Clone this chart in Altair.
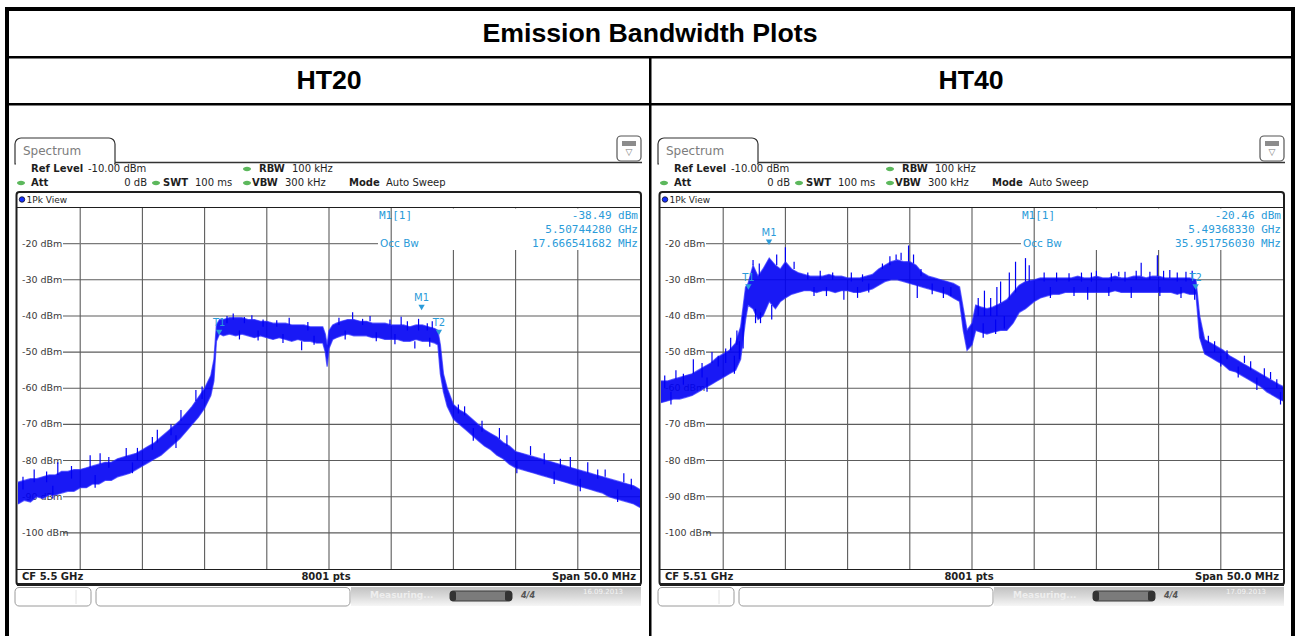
import altair as alt
import pandas as pd

# ---------------- sweep settings shared by both screens ----------------
SPAN_MHZ = 50.0
REF_DBM = -10.0
FLOOR_DBM = -110.0
grid_db = [-20, -30, -40, -50, -60, -70, -80, -90, -100]
grid_off = [5, 10, 15, 20, 25, 30, 35, 40, 45]
sweep_points = 8001

panel_title = ["HT20", "HT40"]
center_ghz = [5.5, 5.51]
m1_dbm = [-38.49, -20.46]
m1_ghz = [5.50744280, 5.49368330]
occ_bw_mhz = [17.666541682, 35.951756030]
edge_dbm = [-45.4, -32.8]
sweep_date = ["16.09.2013", "17.09.2013"]

# ---------------- HT20 trace envelope (MHz from span start, dBm) ----------------
ht20_off = [0, 0.5, 1, 1.5, 2, 2.5, 3, 3.5, 4, 4.5, 5, 5.5, 6, 6.5, 7, 7.5, 8, 8.5, 9, 9.5,
            10, 10.5, 11, 11.5, 12, 12.5, 13, 13.5, 14, 14.5, 15, 15.5, 15.75, 15.95, 16.2, 16.5,
            17, 17.5, 18, 18.5, 19, 19.5, 20, 20.5, 21, 21.5, 22, 22.5, 23, 23.5, 24, 24.5,
            24.7, 24.85, 25.0, 25.3, 25.6, 26, 26.5, 27, 27.5, 28, 28.5, 29, 29.5, 30, 30.5,
            31, 31.5, 32, 32.5, 33, 33.5, 33.75, 33.95, 34.2, 34.5, 35, 35.5, 36, 36.5, 37,
            37.5, 38, 38.5, 39, 39.5, 40, 40.5, 41, 41.5, 42, 42.5, 43, 43.5, 44, 44.5, 45,
            45.5, 46, 46.5, 47, 47.5, 48, 48.5, 49, 49.5, 50]
ht20_lo = [-92, -91, -91.5, -90, -90.5, -89.5, -89.5, -89, -88.5, -88.5, -87.5, -87.5, -86.5,
           -86.5, -85.5, -85.5, -84.5, -84, -83.5, -82.5, -81.5, -80.5, -79.5, -78.5, -77,
           -75.5, -74, -72, -70, -68, -65.5, -62, -58, -47, -45, -45.5, -45, -45.5, -45,
           -45.5, -46, -45.5, -46, -46.5, -46, -46.5, -47, -46.5, -47, -47, -47.5, -47.5,
           -50, -54, -49, -46.5, -46, -45.5, -45, -45.5, -45.5, -45.5, -46, -46, -46.5,
           -46.5, -46.5, -47, -47, -46.5, -47, -47, -47.5, -48, -56, -61, -65, -68.5, -70,
           -71.5, -73, -74.5, -76, -77, -78.5, -79.5, -81, -82, -82.5, -83, -83.5, -84,
           -84.5, -85, -85.5, -86, -86.5, -87, -87.5, -88, -88.5, -89, -90, -90.5, -91,
           -91.5, -92, -93]
ht20_hi = [-86, -85.5, -85, -85, -84.5, -84, -84, -83, -83, -82.5, -82.5, -82, -81.5, -81,
           -80.5, -80.5, -79.5, -79, -78.5, -78, -77, -76, -75, -73.5, -72, -70.5, -69, -67,
           -65, -62.5, -60, -56.5, -52, -42.5, -41, -41, -40.5, -40.5, -40.5, -41, -41,
           -41.5, -41.5, -42, -42, -42, -42.5, -42.5, -42.5, -43, -43, -43, -45, -48, -44,
           -42.5, -42, -41.5, -41, -41, -41.5, -41.5, -42, -42, -42, -42.5, -42.5, -42.5,
           -43, -42.5, -42.5, -43, -43.5, -44, -48, -56, -60, -64.5, -66, -67, -68.5, -70,
           -71.5, -72.5, -73.5, -75, -76, -77.5, -78, -78.5, -79, -79.5, -80, -80.5, -81,
           -81.5, -82, -82.5, -83, -83.5, -84, -84.5, -85, -85.5, -86, -86.5, -87, -88]
# noise excursions beyond the envelope: offset, start level, end level
ht20_spike_off = [1.3, 3.2, 5.8, 6.6, 8.7, 11.2, 13.1, 14.3, 17.3, 18.8, 21.8, 26.9, 28.3,
                  30.8, 29.9, 33.3, 22.8, 31.9, 35.9, 38.7, 41.2, 44.4, 45.8, 47.2, 48.7,
                  0.4, 2.3, 4.3, 7.3, 9.6, 10.8, 12.3, 14.8, 2.8, 6.2, 9.2, 12.7,
                  16.8, 18.2, 19.7, 20.8, 23.3, 25.8, 27.7, 31.3, 32.9, 32.2,
                  17.8, 19.3, 21.3, 23.8, 26.3, 28.8, 30.3, 33.1,
                  35.4, 37.3, 39.3, 42.3, 43.6, 46.6, 49.3, 36.6, 40.1, 43.1, 45.2, 48.2]
ht20_spike_base = [-86, -84, -82, -81, -79, -75, -69, -63.5, -41, -41, -42.5, -41, -41.5,
                   -42.5, -42.5, -43.5, -47, -47, -67.5, -74, -78.5, -82, -83.5, -84.5, -86,
                   -88, -86, -85, -82, -80, -77, -73, -63, -87, -84, -80.5, -73,
                   -42, -42, -43, -43, -44, -42.5, -42.5, -44, -44, -44,
                   -44, -44, -45, -45.5, -44, -44.5, -45, -46,
                   -67, -72, -76, -81, -82, -85, -88, -71, -80, -83, -85, -88]
ht20_spike_tip = [-82.5, -80.5, -78.5, -78, -76.5, -71.5, -66, -60.5, -39.3, -39.8, -40.5,
                  -39, -40, -40.2, -41, -41.5, -49.5, -49, -65, -71, -76, -79, -80.5, -82.5,
                  -83.5,
                  -84.5, -83, -81.5, -79, -76.5, -73.5, -70, -59.5, -90.5, -87.5, -83.5, -76.5,
                  -40, -40.3, -41, -41.2, -41.7, -40.5, -40.8, -41.5, -42, -40.8,
                  -46.5, -46.8, -47.5, -48, -46.5, -47, -47.8, -48.5,
                  -64.5, -69, -73, -78, -79.5, -82.5, -85, -74.5, -83.5, -86.5, -88.5, -91.5]

# ---------------- HT40 trace envelope (MHz from span start, dBm) ----------------
ht40_off = [0, 0.5, 1, 1.5, 2, 2.5, 3, 3.5, 4, 4.5, 5, 5.5, 6, 6.4, 6.8, 7.0, 7.4, 7.8, 8.2,
            8.7, 9.2, 9.6, 10, 10.5, 11, 11.5, 12, 12.5, 13, 13.5, 14, 14.5, 15, 15.5, 16,
            16.5, 17, 17.5, 18, 18.5, 19, 19.5, 20, 20.5, 21, 21.5, 22, 22.5, 23, 23.5, 24,
            24.3, 24.6, 25, 25.3, 25.7, 26.2, 26.7, 27.3, 27.8, 28.3, 28.8, 29.3, 30, 30.5,
            31, 31.5, 32, 32.5, 33, 33.5, 34, 34.5, 35, 35.5, 36, 36.5, 37, 37.5, 38, 38.5,
            39, 39.5, 40, 40.5, 41, 41.5, 42, 42.5, 43, 43.3, 43.7, 44.2, 44.7, 45.2, 45.7,
            46.2, 46.7, 47.2, 47.7, 48.2, 48.7, 49.2, 49.7, 50]
ht40_lo = [-64, -63.5, -63, -63, -62.5, -62, -61, -60, -59, -58, -57, -56, -55, -52, -41,
           -37, -38, -41, -40, -36, -38, -36, -35, -34, -33.5, -33, -33, -33.5, -33, -33,
           -33.5, -33, -33, -33.5, -33.5, -33, -32.5, -31.5, -30.5, -30, -30, -30.5, -31,
           -31.5, -32, -32.5, -33, -33.5, -34, -35, -36, -44, -49.5, -48, -44, -44.5, -45,
           -44.5, -44, -44, -42, -39, -38, -36, -35, -34.5, -34, -34, -33.5, -33.5, -33.5,
           -33.5, -33.5, -33.5, -33.5, -33.5, -33, -33.5, -33.5, -33.5, -33.5, -33.5,
           -33.5, -33.5, -33.5, -33.5, -34, -33.5, -34, -34, -46, -50.5, -51.5, -52.5,
           -53.5, -55, -55.5, -56.5, -57.5, -58.5, -59.5, -61, -62, -63, -63.5]
ht40_hi = [-58, -58, -57.5, -57, -56.5, -56, -55, -54, -53, -51.5, -50.5, -49.5, -47.5, -43,
           -32, -31, -26, -29, -27, -24, -26, -27, -25, -27, -28, -28.5, -29, -29, -29,
           -28.5, -29, -29, -29.5, -29.5, -29.5, -29, -28.5, -27, -26, -25, -24.5, -25, -25,
           -26, -28, -29, -29.5, -30, -30.5, -31, -32, -38, -44, -42, -37, -37.5, -38, -37.5,
           -36.5, -35.5, -33.5, -31.5, -30.5, -30, -29.5, -29.5, -29.5, -29.5, -29.5, -29.5,
           -29, -29.5, -29.5, -29, -29.5, -29.5, -29, -29.5, -29.5, -29, -29, -29.5, -29,
           -29, -29.5, -29.5, -29.5, -29.5, -29.5, -30, -40, -46.5, -47.5, -48.5, -49.5,
           -51, -52, -53, -54, -55, -56, -57, -58, -59, -59.5]
ht40_spike_off = [1.2, 2.6, 4.1, 5.6, 6.1, 6.6, 7.4, 7.9, 9.3, 10.0, 10.7, 7.6, 8.0, 8.9,
                  14.7, 20.6, 18.9, 19.9, 20.3, 19.3, 27.3, 28.5, 29.3, 28.0, 29.6, 38.6,
                  39.9, 40.9, 42.7, 35.0, 36.8, 44.0, 46.9, 49.0,
                  0.3, 0.8, 1.8, 3.3, 3.7, 4.6, 5.2, 5.9, 6.3,
                  11.8, 12.8, 13.8, 15.3, 16.2, 12.3, 13.3, 15.8, 16.7,
                  17.8, 18.4, 20.9, 21.8, 22.7, 23.3,
                  25.5, 26.0, 26.5, 27.0, 25.9, 26.9, 27.6,
                  30.8, 31.8, 32.8, 33.8, 34.6, 36.2, 37.3, 38.2, 39.3, 40.4, 41.5, 42.2,
                  31.3, 33.2, 34.3, 36.0, 37.8, 40.1, 41.8, 42.9,
                  44.5, 45.5, 47.4, 48.5, 49.5, 45.0, 46.4, 47.9, 49.8]
ht40_spike_base = [-57.5, -56, -53, -49.5, -48, -49, -26, -29, -26, -25, -27, -38, -39, -37,
                   -33, -31.5, -24.5, -25, -25.5, -24.5, -36.5, -33.5, -30.5, -35.5, -30.5,
                   -29, -29, -29.5, -29.5, -29, -29, -47.5, -53, -57.5,
                   -60, -61, -59, -57, -57, -54, -53, -51, -47,
                   -30, -30, -30, -30.5, -30.5, -32, -32, -32, -31,
                   -27, -26, -29, -31, -32, -32,
                   -40, -40, -40, -40, -42, -41, -40,
                   -30.5, -30.5, -30.5, -30.5, -30.5, -30.5, -30.5, -30, -30, -30, -30.5, -30.5,
                   -32, -32, -32, -32, -32, -32, -32, -32,
                   -50, -52, -55, -57, -60, -51, -54, -57, -61]
ht40_spike_tip = [-55, -52, -50, -46, -44, -40, -24.5, -25.5, -23, -21, -25, -42, -42, -41,
                  -35.5, -35, -23, -20.5, -23, -22.5, -30.5, -25, -24, -28, -26, -25.3, -23.2,
                  -27.3, -27.5, -27.5, -27.8, -45.5, -51, -55.5,
                  -56.5, -64.5, -56, -53, -61, -51, -49, -56, -52,
                  -28, -27.5, -28, -28, -28.5, -34.5, -34.5, -35, -33.5,
                  -25.5, -23.5, -27, -34, -35, -34.5,
                  -35, -33, -35, -32, -46, -45, -43.5,
                  -28, -28, -28.2, -28, -28, -28.2, -27.8, -27.5, -27.8, -27.5, -28, -27.8,
                  -35, -34.5, -35.5, -34.5, -35, -34.5, -35, -35.5,
                  -47, -49.5, -52.5, -54.5, -57.5, -54, -57, -60.5, -64.5]

traces = [
    (ht20_off, ht20_lo, ht20_hi, ht20_spike_off, ht20_spike_base, ht20_spike_tip),
    (ht40_off, ht40_lo, ht40_hi, ht40_spike_off, ht40_spike_base, ht40_spike_tip),
]
for t in traces:
    assert len(t[0]) == len(t[1]) == len(t[2])
    assert len(t[3]) == len(t[4]) == len(t[5])

# ---------------- drawing styles ----------------
W, H = 1296, 636
SHIFT = 643                 # horizontal distance between the two instrument screens
GX0, GX1 = 18, 640          # graticule left/right
GY0, GY1 = 207.5, 569       # graticule top/bottom
TRACE = "#0000f4"
EDGE = "#2c2cff"
MARK = "#2b9bd9"
GRID = "#5c5c5c"
INK = "#1e1e1e"
GREEN = "#5cb85c"
UI_FONT = "DejaVu Sans"
MONO = "DejaVu Sans Mono"
ONE = alt.Data(values=[{"k": 0}])
ELLIPSE = "M-1,0A1,0.55,0,1,0,1,0A1,0.55,0,1,0,-1,0Z"


def text(s, x, y, size=10, weight="normal", color=INK, align="left", font=UI_FONT,
         baseline="middle", opacity=1.0, style="normal"):
    return alt.Chart(ONE).mark_text(
        text=s, fontSize=size, fontWeight=weight, color=color, align=align, font=font,
        baseline=baseline, opacity=opacity, fontStyle=style
    ).encode(x=alt.value(x), y=alt.value(y))


def rect(x, y, x2, y2, fill="white", stroke=None, sw=1.0, r=0, **kw):
    props = dict(fill=fill, cornerRadius=r, **kw)
    if stroke is not None:
        props.update(stroke=stroke, strokeWidth=sw)
    return alt.Chart(ONE).mark_rect(**props).encode(
        x=alt.value(x), x2=alt.value(x2), y=alt.value(y), y2=alt.value(y2))


def rule(x, y, x2, y2, color=INK, sw=1.0, opacity=1.0):
    return alt.Chart(ONE).mark_rule(color=color, strokeWidth=sw, opacity=opacity).encode(
        x=alt.value(x), x2=alt.value(x2), y=alt.value(y), y2=alt.value(y2))


def dot(x, y, color, size=64, shape=ELLIPSE, stroke=None):
    props = dict(shape=shape, filled=True, color=color, size=size, opacity=1)
    if stroke is not None:
        props.update(stroke=stroke, strokeWidth=0.8)
    return alt.Chart(ONE).mark_point(**props).encode(x=alt.value(x), y=alt.value(y))


def screen(i):
    ox = i * SHIFT
    off, lo, hi, s_off, s_base, s_tip = traces[i]
    start_ghz = center_ghz[i] - SPAN_MHZ / 2000.0
    L = []

    # ---- tab, settings header, soft-key icon ----
    L.append(rect(15 + ox, 138, 115 + ox, 164, fill="white", stroke="#333", sw=1.2,
                  cornerRadiusTopLeft=6, cornerRadiusTopRight=6))
    L.append(rule(16 + ox, 164, 114 + ox, 164, color="white", sw=3))
    L.append(rule(115 + ox, 162.5, 642 + ox, 162.5, color="#333", sw=1.4))
    L.append(text("Spectrum", 23 + ox, 150.5, size=12, color="#7c7c7c"))
    L.append(rect(617 + ox, 136, 641 + ox, 161, fill="white", stroke="#555", sw=1.2, r=4))
    L.append(rect(622 + ox, 141, 636 + ox, 146, fill="#8c8c8c"))
    L.append(text("▽", 629 + ox, 152, size=9, color="#777", align="center"))

    L.append(text("Ref Level", 31 + ox, 169, weight="bold"))
    L.append(text("-10.00 dBm", 88 + ox, 169))
    L.append(dot(247 + ox, 169, GREEN))
    L.append(text("RBW", 259 + ox, 169, weight="bold"))
    L.append(text("100 kHz", 292 + ox, 169))
    L.append(dot(21 + ox, 183, GREEN))
    L.append(text("Att", 31 + ox, 183, weight="bold"))
    L.append(text("0 dB", 147 + ox, 183, align="right"))
    L.append(dot(156 + ox, 183, GREEN))
    L.append(text("SWT", 163 + ox, 183, weight="bold"))
    L.append(text("100 ms", 195 + ox, 183))
    L.append(dot(247 + ox, 183, GREEN))
    L.append(text("VBW", 252 + ox, 183, weight="bold"))
    L.append(text("300 kHz", 285 + ox, 183))
    L.append(text("Mode", 349 + ox, 183, weight="bold"))
    L.append(text("Auto Sweep", 386 + ox, 183))

    # ---- window title row ----
    L.append(dot(22 + ox, 199.5, "#1530ff", size=30, shape="circle", stroke="#112"))
    L.append(text("1Pk View", 26.5 + ox, 199.5, size=9))

    # ---- graticule through the sweep scales ----
    xs = alt.Scale(domain=[0, SPAN_MHZ], range=[GX0 + ox, GX1 + ox], nice=False, zero=False)
    ys = alt.Scale(domain=[FLOOR_DBM, REF_DBM], range=[GY1, GY0], nice=False, zero=False)

    def X(f):
        return alt.X(f, type="quantitative", scale=xs, axis=None)

    def Y(f):
        return alt.Y(f, type="quantitative", scale=ys, axis=None)

    vg = pd.DataFrame({"off": grid_off})
    L.append(alt.Chart(vg).mark_rule(color=GRID, strokeWidth=1.1).encode(
        x=X("off"), y=alt.value(GY0), y2=alt.value(GY1)))
    hg = pd.DataFrame({"db": [d for d in grid_db if d != grid_db[0]]})
    L.append(alt.Chart(hg).mark_rule(color=GRID, strokeWidth=1.1).encode(
        y=Y("db"), x=alt.value(63 + ox), x2=alt.value(GX1 + ox)))
    top = pd.DataFrame({"db": [grid_db[0]]})
    L.append(alt.Chart(top).mark_rule(color="#7a7a7a", strokeWidth=1.1).encode(
        y=Y("db"), x=alt.value(63 + ox), x2=alt.value(378 + ox)))
    # white panel behind the marker read-out
    L.append(rect(421 + ox, 208.5, 639 + ox, 250, fill="white"))
    labs = pd.DataFrame({"db": grid_db, "lab": [f"{d} dBm" for d in grid_db]})
    L.append(alt.Chart(labs).mark_text(align="left", baseline="middle", fontSize=9.5,
                                       font=UI_FONT, color="#3a3a3a").encode(
        y=Y("db"), x=alt.value(22 + ox), text="lab:N"))

    # ---- trace ----
    tr = pd.DataFrame({"off": off, "lo": lo, "hi": hi})
    L.append(alt.Chart(tr).mark_area(color=TRACE, opacity=0.9).encode(
        x=X("off"), y=Y("lo"), y2="hi:Q"))
    L.append(alt.Chart(tr).mark_line(color=EDGE, strokeWidth=1.3, opacity=0.7).encode(
        x=X("off"), y=Y("hi")))
    L.append(alt.Chart(tr).mark_line(color=EDGE, strokeWidth=1.3, opacity=0.7).encode(
        x=X("off"), y=Y("lo")))
    sp = pd.DataFrame({"off": s_off, "base": s_base, "tip": s_tip})
    L.append(alt.Chart(sp).mark_rule(color=TRACE, strokeWidth=1.2).encode(
        x=X("off"), y=Y("base"), y2="tip:Q"))

    # ---- markers: M1 from its read-out, T1/T2 from the occupied bandwidth ----
    half = occ_bw_mhz[i] / 2.0
    mk = pd.DataFrame({
        "name": ["M1", "T1", "T2"],
        "off": [(m1_ghz[i] - start_ghz) * 1000.0, SPAN_MHZ / 2 - half, SPAN_MHZ / 2 + half],
        "dbm": [m1_dbm[i], edge_dbm[i], edge_dbm[i]],
    })
    L.append(alt.Chart(mk).mark_point(shape="triangle-down", filled=True, size=40,
                                      color=MARK, opacity=1, yOffset=-3).encode(
        x=X("off"), y=Y("dbm")))
    L.append(alt.Chart(mk).mark_text(fontSize=10, font=UI_FONT, color=MARK,
                                     baseline="middle", yOffset=-12).encode(
        x=X("off"), y=Y("dbm"), text="name:N"))

    # ---- marker read-out ----
    L.append(text("M1[1]", 379 + ox, 215.5, size=11, font=MONO, color=MARK))
    L.append(text("Occ Bw", 380 + ox, 243.5, size=10.5, color=MARK))
    L.append(text(f"{m1_dbm[i]:.2f} dBm", 638 + ox, 215.5, size=11, font=MONO,
                  color=MARK, align="right"))
    L.append(text(f"{m1_ghz[i]:.8f} GHz", 638 + ox, 229.5, size=11, font=MONO,
                  color=MARK, align="right"))
    L.append(text(f"{occ_bw_mhz[i]:.9f} MHz", 638 + ox, 243.5, size=11, font=MONO,
                  color=MARK, align="right"))

    # ---- window frame and footer ----
    L.append(rule(17 + ox, GY0, 641 + ox, GY0, color=INK, sw=1.2))
    L.append(rule(17 + ox, GY1 + 0.5, 641 + ox, GY1 + 0.5, color=INK, sw=1.2))
    L.append(rect(16.5 + ox, 192, 641 + ox, 585, fill="white", fillOpacity=0,
                  stroke=INK, sw=2, r=3))
    L.append(rule(17 + ox, 584.5, 641 + ox, 584.5, color=INK, sw=3))
    L.append(text(f"CF {center_ghz[i]:g} GHz", 22 + ox, 577, weight="bold"))
    L.append(text(f"{sweep_points} pts", 326 + ox, 577, weight="bold", align="center"))
    L.append(text(f"Span {SPAN_MHZ:.1f} MHz", 636 + ox, 577, weight="bold", align="right"))

    # ---- status bar ----
    L.append(rect(15 + ox, 587.5, 91 + ox, 606, fill="white", stroke="#9a9a9a", sw=1, r=4))
    L.append(rule(76 + ox, 590, 76 + ox, 604, color="#e2e2e2"))
    L.append(rect(96 + ox, 587.5, 350 + ox, 606, fill="white", stroke="#9a9a9a", sw=1, r=4))
    grad = alt.LinearGradient(
        gradient="linear",
        stops=[alt.GradientStop(color="#c2c2c2", offset=0),
               alt.GradientStop(color="#dadada", offset=0.5),
               alt.GradientStop(color="#f6f6f6", offset=1)],
        x1=0, x2=0, y1=0, y2=1)
    L.append(rect(351 + ox, 587, 641 + ox, 606, fill=grad))
    L.append(text("Measuring...", 370 + ox, 595, size=9, weight="bold", color="#eeeeee"))
    L.append(rect(450 + ox, 591, 512 + ox, 601, fill="#7b7b7b", stroke="#3a3a3a", sw=1, r=3))
    L.append(rect(450 + ox, 591, 456 + ox, 601, fill="#333", r=2))
    L.append(rect(505 + ox, 591, 512 + ox, 601, fill="#333", r=2))
    L.append(text("4/4", 528 + ox, 596, size=8, weight="bold", style="italic",
                  color="#555", align="center"))
    L.append(text(sweep_date[i], 603 + ox, 592, size=7, color="#f4f4f4", align="center"))
    return alt.layer(*L)


# ---------------- table around the two screens ----------------
table = [
    rect(5, 7, 1295, 11, fill="black"),
    rect(5, 7, 9, 636, fill="black"),
    rect(1291, 7, 1295, 636, fill="black"),
    rect(5, 56, 1295, 58.5, fill="black"),
    rect(5, 103, 1295, 105.5, fill="black"),
    rect(649, 57, 651.5, 636, fill="black"),
    text("Emission Bandwidth Plots", 650, 34, size=26.7, weight="bold",
         font="Liberation Sans", color="black", align="center"),
    text(panel_title[0], 329, 81, size=26.7, weight="bold", font="Liberation Sans",
         color="black", align="center"),
    text(panel_title[1], 971, 81, size=26.7, weight="bold", font="Liberation Sans",
         color="black", align="center"),
]

chart = alt.layer(*table, screen(0), screen(1)).resolve_scale(
    x="independent", y="independent"
).properties(
    width=W, height=H, autosize=alt.AutoSizeParams(type="none"), padding=0
).configure(background="white").configure_view(strokeWidth=0)

chart.save("out.html", embed_options={"renderer": "svg", "actions": False})
